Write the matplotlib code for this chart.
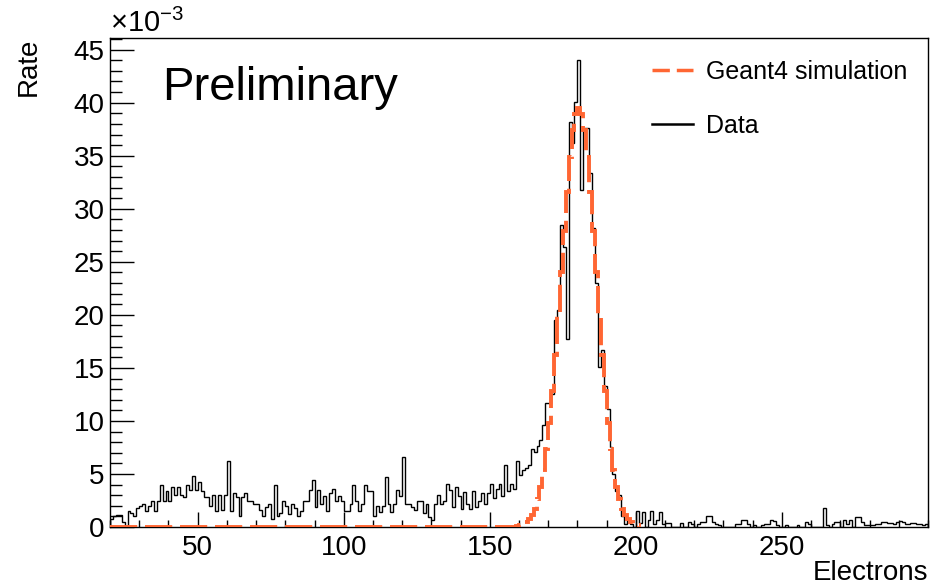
import numpy as np
import matplotlib.pyplot as plt
from matplotlib.lines import Line2D
from matplotlib.ticker import MultipleLocator

plt.rcParams['font.family'] = ['Liberation Sans', 'DejaVu Sans']
plt.rcParams['mathtext.fontset'] = 'custom'
plt.rcParams['mathtext.rm'] = 'Liberation Sans'

# measured rate per 1-electron bin (units of 1e-3), bins start at 20
data_start = 20
data_rate = [
    0.8, 1.0, 1.1, 1.1, 0.5, 0.0, 1.5, 1.3, 1.0, 1.8,   # 20
    2.0, 2.2, 1.5, 2.0, 2.5, 1.5, 2.5, 4.0, 2.5, 3.4,   # 30
    2.5, 3.8, 3.0, 3.8, 3.0, 2.8, 4.0, 3.5, 4.8, 3.5,   # 40
    4.2, 3.4, 2.8, 2.8, 2.0, 3.0, 1.5, 3.0, 1.6, 3.0,   # 50
    6.2, 1.5, 3.2, 2.8, 1.0, 2.8, 3.2, 2.5, 2.5, 2.2,   # 60
    2.2, 1.6, 1.0, 1.9, 2.2, 0.8, 4.0, 1.0, 1.3, 2.5,   # 70
    2.0, 1.2, 2.2, 1.8, 1.0, 1.5, 2.5, 2.5, 3.5, 4.4,   # 80
    1.9, 3.5, 2.2, 2.9, 1.5, 3.2, 3.6, 2.5, 2.9, 2.5,   # 90
    1.5, 1.5, 2.2, 4.0, 2.5, 1.5, 2.2, 4.0, 3.4, 3.4,   # 100
    1.0, 2.0, 1.4, 2.0, 4.7, 2.2, 1.4, 2.2, 3.5, 2.9,   # 110
    6.6, 2.2, 2.2, 1.9, 1.6, 2.5, 2.5, 1.3, 2.2, 0.9,   # 120
    0.7, 2.2, 3.0, 2.2, 2.5, 4.1, 3.5, 1.9, 3.8, 2.9,   # 130
    1.7, 3.3, 2.2, 1.7, 3.4, 1.9, 2.5, 3.2, 2.2, 3.2,   # 140
    4.1, 2.7, 3.6, 4.1, 2.9, 5.8, 3.4, 4.1, 3.6, 6.2,   # 150
    4.9, 5.4, 5.6, 5.8, 7.4, 7.1, 7.6, 8.2, 9.6, 11.7,  # 160
    11.7, 12.5, 19.5, 20.5, 28.5, 26.4, 17.7, 38.2, 36.2, 40.1,  # 170
    44.0, 31.8, 37.6, 37.6, 33.4, 28.2, 23.0, 15.1, 16.7, 13.3,  # 180
    11.1, 7.5, 5.0, 3.4, 3.0, 1.0, 0.3, 0.8, 0.3, 0.0,  # 190
    1.5, 0.4, 1.4, 0.0, 0.7, 1.5, 0.3, 0.7, 1.4, 0.3,   # 200
    0.4, 0.4, 0.0, 0.0, 0.0, 0.4, 0.0, 0.0, 0.5, 0.3,   # 210
    0.0, 0.3, 0.5, 0.5, 1.0, 1.0, 0.5, 0.3, 0.2, 0.0,   # 220
    0.0, 0.0, 0.0, 0.0, 0.3, 0.3, 0.7, 0.7, 0.3, 0.0,   # 230
    0.2, 0.0, 0.0, 0.2, 0.3, 0.3, 0.7, 0.6, 0.2, 0.0,   # 240
    0.0, 0.2, 0.0, 0.0, 0.0, 0.2, 0.0, 0.0, 0.5, 0.3,   # 250
    0.0, 0.0, 0.0, 0.0, 1.8, 0.2, 0.0, 0.3, 0.5, 0.5,   # 260
    0.0, 0.7, 0.3, 0.7, 0.0, 0.9, 0.9, 0.5, 0.2, 0.2,   # 270
    0.2, 0.2, 0.3, 0.3, 0.5, 0.5, 0.4, 0.4, 0.3, 0.5,   # 280
    0.6, 0.5, 0.3, 0.3, 0.4, 0.4, 0.3, 0.3, 0.2, 0.3,   # 290
]

# Geant4 simulation: zero from 20 up to 158, peak bins 158..200
sim_start = 20
sim_end = 201
sim_peak_start = 158
sim_peak = [
    0.04, 0.08, 0.15, 0.26, 0.44, 0.71, 1.13, 1.74, 2.60, 3.78,
    5.35, 7.35, 9.85, 12.8, 16.2, 20.0, 24.0, 27.9, 31.6, 34.9,
    37.4, 38.95, 39.5, 38.95, 37.4, 34.9, 31.6, 27.9, 24.0, 20.0,
    16.2, 12.8, 9.85, 7.35, 5.35, 3.78, 2.60, 1.74, 1.13, 0.71,
    0.44, 0.26, 0.15,
]

x_ticks = [50, 100, 150, 200, 250]
orange = '#ff6633'

data_edges = np.arange(data_start, data_start + len(data_rate) + 1)
sim_rate = np.zeros(sim_end - sim_start)
sim_rate[sim_peak_start - sim_start:] = sim_peak
sim_edges = np.arange(sim_start, sim_end + 1)

fig = plt.figure(figsize=(9.38, 5.88), dpi=100)
ax = fig.add_axes([0.1173, 0.1037, 0.872, 0.8317])

ax.stairs(data_rate, data_edges, color='black', lw=1.0, zorder=2)
ax.stairs(sim_rate, sim_edges, color=orange, lw=2.8,
          linestyle=(0, (7, 2)), zorder=3)

ax.set_xlim(20, 300)
ax.set_ylim(0, 46.1)
ax.set_xticks(x_ticks)
ax.xaxis.set_minor_locator(MultipleLocator(10))
ax.yaxis.set_major_locator(MultipleLocator(5))
ax.yaxis.set_minor_locator(MultipleLocator(1))
ax.tick_params(axis='both', which='both', direction='in', top=False, right=False,
               width=1.0, labelsize=20)
ax.tick_params(axis='y', which='major', length=17.5, pad=4)
ax.tick_params(axis='y', which='minor', length=8.8)
ax.tick_params(axis='x', which='major', length=10.5, pad=6)
ax.tick_params(axis='x', which='minor', length=5.2)
for s in ax.spines.values():
    s.set_linewidth(1.0)

ax.set_xlabel('Electrons', fontsize=20, loc='right')
ax.xaxis.set_label_coords(1.0, -0.068)
ax.set_ylabel('Rate', fontsize=20, loc='top')
ax.yaxis.set_label_coords(-0.083, 1.0)

ax.text(0.0, 1.0, r'$\times\mathregular{10^{-3}}$', transform=ax.transAxes,
        fontsize=21, ha='left', va='bottom')
ax.text(0.0636, 0.898, 'Preliminary', transform=ax.transAxes,
        fontsize=34, ha='left', va='center')

handles = [Line2D([], [], color=orange, lw=2.5, linestyle=(0, (5, 2))),
           Line2D([], [], color='black', lw=1.8)]
ax.legend(handles, ['Geant4 simulation', 'Data'], loc='upper left',
          bbox_to_anchor=(0.6626, 0.955), frameon=False, fontsize=18,
          handlelength=1.65, handletextpad=0.5, labelspacing=1.2,
          borderpad=0, borderaxespad=0)

fig.savefig('out.png', dpi=100)
